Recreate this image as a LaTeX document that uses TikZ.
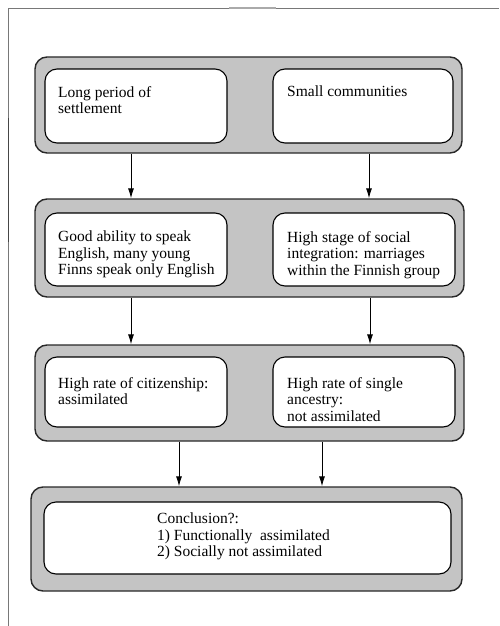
\documentclass[tikz,border=0pt]{standalone}
\usepackage{fontspec}
\setmainfont{Liberation Serif}
\usepackage{tikz}
\usetikzlibrary{arrows.meta,calc}
\usepackage{xcolor}

\definecolor{stipple}{RGB}{196,196,196}
\definecolor{framegray}{RGB}{120,120,120}

\tikzset{
  outerbox/.style={draw={rgb,255:red,40;green,40;blue,40}, line width=1.4pt, fill=stipple, rounded corners=12pt, inner sep=0pt},
  innerbox/.style={draw=black, line width=1.1pt, fill=white, rounded corners=12pt, inner sep=0pt},
  boxtext/.style={anchor=north west, inner sep=0pt, align=left, font=\fontsize{15.5}{16.5}\selectfont},
  flow/.style={line width=0.9pt, -{Latex[length=10pt,width=6pt]}}
}

\begin{document}
\begin{tikzpicture}[x=1pt,y=1pt,yscale=-1,xscale=1]
%set diagram from (0,0) to (499,626)
\useasboundingbox (0,0) rectangle (499,626);

%Page frame
\draw [color=framegray, line width=0.9pt] (8.5,626) -- (8.5,8) -- (499,8) ;
\draw [color={rgb,255:red,70;green,70;blue,70}, line width=1.3pt] (8.5,118) -- (8.5,242) ;
\draw [color={rgb,255:red,170;green,170;blue,170}, line width=2pt] (229,8) -- (276,8) ;

%Shape: Rounded Rectangle [row 1]
\node [outerbox, minimum width=427, minimum height=96] (rowa) at (248.5,105) {};
\node [innerbox, minimum width=182, minimum height=74] (settle) at (136,106) {};
\node [innerbox, minimum width=180, minimum height=74] (small) at (363,106) {};

%Shape: Rounded Rectangle [row 2]
\node [outerbox, minimum width=429, minimum height=98] (rowb) at (249.5,248) {};
\node [innerbox, minimum width=182, minimum height=73] (english) at (136,249.5) {};
\node [innerbox, minimum width=182, minimum height=73] (social) at (364,249.5) {};

%Shape: Rounded Rectangle [row 3]
\node [outerbox, minimum width=429, minimum height=96] (rowc) at (249.5,393) {};
\node [innerbox, minimum width=182, minimum height=70] (citizen) at (136,392) {};
\node [innerbox, minimum width=182, minimum height=70] (ancestry) at (364,392) {};

%Shape: Rounded Rectangle [row 4]
\node [outerbox, minimum width=431, minimum height=104] (rowd) at (246.5,539) {};
\node [innerbox, minimum width=407, minimum height=72] (concl) at (247.5,538) {};

%Straight Lines with arrows
\draw [flow] (rowa.south -| 131,0) -- (rowb.north -| 131,0) ;
\draw [flow] (rowa.south -| 369,0) -- (rowb.north -| 369,0) ;
\draw [flow] (rowb.south -| 131,0) -- (rowc.north -| 131,0) ;
\draw [flow] (rowb.south -| 370,0) -- (rowc.north -| 370,0) ;
\draw [flow] (rowc.south -| 179,0) -- (rowd.north -| 179,0) ;
\draw [flow] (rowc.south -| 322,0) -- (rowd.north -| 322,0) ;

% Text Node
\node [boxtext] (tsettle) at (58,86) {Long period of\\settlement};
% Text Node
\node [boxtext] (tsmall) at (287,86) {Small communities};
% Text Node
\node [boxtext] (tenglish) at (58,231) {Good ability to speak\\English, many young\\Finns speak only English};
% Text Node
\node [boxtext] (tsocial) at (287,231) {High stage of social\\integration: marriages\\within the Finnish group};
% Text Node
\node [boxtext] (tcitizen) at (58,377) {High rate of citizenship:\\assimilated};
% Text Node
\node [boxtext] (tancestry) at (287,377) {High rate of single\\ancestry:\\not assimilated};
% Text Node
\node [boxtext] (tconcl) at (157,513) {Conclusion?:\\1) Functionally\ \ assimilated\\2) Socially not assimilated};

\end{tikzpicture}
\end{document}
